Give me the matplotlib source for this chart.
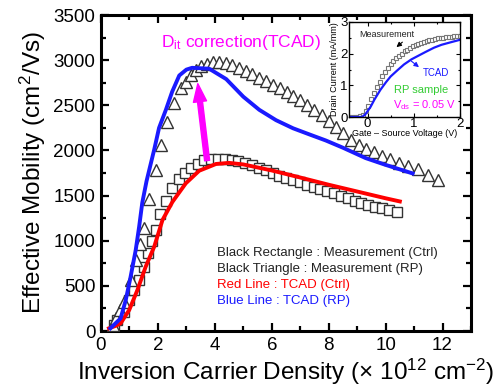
import matplotlib
matplotlib.use("Agg")
import matplotlib.pyplot as plt
from matplotlib.ticker import MultipleLocator
from matplotlib.patches import FancyArrowPatch

plt.rcParams['font.family'] = ['Liberation Sans', 'DejaVu Sans']
plt.rcParams['mathtext.fontset'] = 'custom'
plt.rcParams['mathtext.rm'] = 'Liberation Sans'
plt.rcParams['mathtext.it'] = 'Liberation Sans:italic'

# ---- main data ----
sq_x = [0.46, 0.57, 0.81, 0.98, 1.16, 1.33, 1.51, 1.66, 1.78, 1.92,
        2.08, 2.27, 2.51, 2.73, 2.95, 3.17, 3.40, 3.63, 3.87, 4.11,
        4.35, 4.59, 4.83, 5.07, 5.31, 5.55, 5.79, 6.03, 6.27, 6.51,
        6.75, 6.99, 7.23, 7.47, 7.71, 7.95, 8.19, 8.43, 8.67, 8.91,
        9.15, 9.39, 9.63, 9.87, 10.12, 10.40]
sq_y = [66, 122, 214, 343, 454, 565, 712, 860, 1000, 1120,
        1300, 1440, 1580, 1680, 1750, 1805, 1855, 1890, 1900, 1902,
        1900, 1890, 1878, 1858, 1835, 1810, 1780, 1750, 1722, 1695,
        1670, 1645, 1622, 1600, 1575, 1552, 1525, 1495, 1468, 1442,
        1418, 1395, 1375, 1358, 1342, 1322]

tri_x = [0.42, 0.52, 0.66, 0.81, 1.04, 1.22, 1.38, 1.52, 1.70, 1.92,
         2.10, 2.33, 2.57, 2.80, 2.98, 3.15, 3.33, 3.50, 3.72, 3.94,
         4.16, 4.38, 4.60, 4.84, 5.08, 5.32, 5.56, 5.80, 6.04, 6.28,
         6.52, 6.76, 7.00, 7.25, 7.50, 7.75, 8.00, 8.26, 8.52, 8.78,
         9.05, 9.32, 9.60, 9.88, 10.17, 10.47, 10.78, 11.14, 11.49, 11.84]
tri_y = [66, 140, 230, 325, 565, 786, 960, 1140, 1460, 1783,
         2060, 2318, 2521, 2688, 2761, 2835, 2890, 2935, 2960, 2975,
         2982, 2972, 2945, 2915, 2880, 2845, 2805, 2765, 2725, 2690,
         2650, 2605, 2560, 2505, 2450, 2390, 2330, 2260, 2190, 2110,
         2060, 2015, 1980, 1940, 1900, 1862, 1828, 1790, 1725, 1670]

red_x = [0.28, 0.50, 0.69, 0.99, 1.28, 1.57, 1.87, 2.16, 2.51, 2.98,
         3.45, 4.04, 4.50, 5.00, 6.00, 7.00, 8.00, 9.00, 10.00, 10.50]
red_y = [30, 55, 85, 232, 454, 712, 934, 1229, 1430, 1636,
         1775, 1850, 1862, 1845, 1778, 1700, 1620, 1545, 1470, 1435]

blue_x = [0.33, 0.69, 0.87, 1.04, 1.22, 1.34, 1.45, 1.60, 1.87, 2.04,
          2.28, 2.50, 2.75, 3.00, 3.20, 3.80, 4.40, 5.00, 5.56, 6.15,
          6.75, 7.30, 7.90, 8.50, 9.30, 10.00, 10.50, 10.95]
blue_y = [30, 140, 343, 600, 897, 1155, 1420, 1660, 2010, 2250,
          2450, 2650, 2830, 2895, 2915, 2905, 2790, 2595, 2450, 2335,
          2245, 2180, 2110, 2030, 1915, 1840, 1790, 1745]

legend_lines = ["Black Rectangle : Measurement (Ctrl)",
                "Black Triangle : Measurement (RP)",
                "Red Line : TCAD (Ctrl)",
                "Blue Line : TCAD (RP)"]
legend_colors = ['#222222', '#222222', '#ff0000', '#1a1aff']

# ---- inset data ----
in_meas_x = [-0.40, -0.34, -0.28, -0.22, -0.16, -0.10, -0.04, 0.02, 0.08, 0.14,
             0.20, 0.26, 0.32, 0.38, 0.44, 0.50, 0.56, 0.62, 0.68, 0.74,
             0.80, 0.86, 0.92, 0.98, 1.04, 1.10, 1.16, 1.22, 1.28, 1.34,
             1.40, 1.46, 1.52, 1.58, 1.64, 1.70, 1.76, 1.82, 1.88, 1.94, 2.00]
in_meas_y = [0.0, 0.0, 0.0, 0.01, 0.02, 0.06, 0.18, 0.36, 0.56, 0.76,
             0.95, 1.12, 1.28, 1.42, 1.55, 1.66, 1.76, 1.85, 1.93, 2.00,
             2.07, 2.13, 2.18, 2.23, 2.27, 2.31, 2.34, 2.37, 2.40, 2.42,
             2.44, 2.46, 2.48, 2.49, 2.51, 2.52, 2.53, 2.54, 2.55, 2.56, 2.57]
in_tcad_x = [-0.40, -0.20, -0.12, -0.05, 0.00, 0.07, 0.15, 0.28, 0.40, 0.50,
             0.65, 0.79, 0.95, 1.08, 1.25, 1.44, 1.60, 1.80, 1.98]
in_tcad_y = [0.0, 0.0, 0.0, 0.08, 0.18, 0.33, 0.55, 0.86, 1.10, 1.28,
             1.48, 1.66, 1.82, 1.92, 2.05, 2.19, 2.28, 2.36, 2.43]

W, H = 497, 391
fig = plt.figure(figsize=(W / 100, H / 100), dpi=100)
ax = fig.add_axes([101 / W, 1 - 331 / H, 370 / W, 316 / H])

ax.plot(sq_x, sq_y, linestyle='none', marker='s', ms=6.5, mfc='white',
        mec='#333333', mew=1.0, zorder=3)
ax.plot(tri_x, tri_y, linestyle='none', marker='^', ms=9, mfc='white',
        mec='#333333', mew=1.0, zorder=3)
ax.plot(red_x, red_y, color='#ff0000', lw=2.8, zorder=4)
ax.plot(blue_x, blue_y, color='#1a1aff', lw=2.8, zorder=4)

ax.set_xlim(0, 13)
ax.set_ylim(0, 3500)
ax.xaxis.set_major_locator(MultipleLocator(2))
ax.xaxis.set_minor_locator(MultipleLocator(1))
ax.yaxis.set_major_locator(MultipleLocator(500))
ax.yaxis.set_minor_locator(MultipleLocator(250))
ax.tick_params(which='both', direction='in', top=True, right=True,
               labelsize=13.5, width=1.6, pad=4)
ax.tick_params(which='major', length=6)
ax.tick_params(which='minor', length=3.5)
for s in ax.spines.values():
    s.set_linewidth(2.2)

ax.set_xlabel('Inversion Carrier Density (× 10$^{12}$ cm$^{-2}$)', fontsize=17.5, labelpad=2)
ax.set_ylabel('Effective Mobility (cm$^{2}$/Vs)', fontsize=17.5, labelpad=4)

# arrow
arr = FancyArrowPatch((3.74, 1857), (3.39, 2770),
                      arrowstyle='simple,head_length=1.3,head_width=0.95,tail_width=0.36',
                      mutation_scale=10, color='#ff00ff', zorder=5)
ax.add_patch(arr)
ax.text(4.92, 3190, r'D$_{\mathrm{it}}$ correction(TCAD)', color='#ff00ff',
        fontsize=12.5, ha='center', va='center')

for i, (t, c) in enumerate(zip(legend_lines, legend_colors)):
    ax.text(4.07, 864 - i * 177, t, color=c, fontsize=9.5, ha='left', va='center')

# ---- inset ----
ia = fig.add_axes([349 / W, 1 - 117 / H, 111 / W, 95 / H])
ia.plot(in_meas_x, in_meas_y, linestyle='none', marker='s', ms=3.2, mfc='white',
        mec='#777777', mew=0.8)
ia.plot(in_tcad_x, in_tcad_y, color='#1a1aff', lw=1.6)
ia.set_xlim(-0.4, 2.0)
ia.set_ylim(0, 3)
ia.xaxis.set_major_locator(MultipleLocator(1))
ia.xaxis.set_minor_locator(MultipleLocator(0.5))
ia.yaxis.set_major_locator(MultipleLocator(1))
ia.yaxis.set_minor_locator(MultipleLocator(0.5))
ia.tick_params(which='both', direction='in', top=True, right=True,
               labelsize=9.5, width=0.8, pad=1)
ia.tick_params(which='major', length=3)
ia.tick_params(which='minor', length=1.5)
for s in ia.spines.values():
    s.set_linewidth(1.0)
ia.set_xlabel('Gate – Source Voltage (V)', fontsize=6.5, labelpad=-1)
ia.set_ylabel('Drain Current (mA/mm)', fontsize=6.5, labelpad=1)

ia.annotate('', xy=(0.58, 2.15), xytext=(0.80, 2.42),
            arrowprops=dict(arrowstyle='-|>', color='black', lw=0.8,
                            mutation_scale=7))
ia.annotate('', xy=(1.16, 1.52), xytext=(0.90, 1.82),
            arrowprops=dict(arrowstyle='-|>', color='#1a1aff', lw=0.8,
                            mutation_scale=7))
ia.text(0.41, 2.62, 'Measurement', fontsize=6.5, ha='center', va='center',
        color='#222222')
ia.text(1.48, 1.40, 'TCAD', fontsize=7, ha='center', va='center', color='#1a1aff')
ia.text(1.17, 0.86, 'RP sample', fontsize=8, ha='center', va='center', color='#33cc33')
ia.text(1.22, 0.38, r'V$_{\mathrm{ds}}$ = 0.05 V', fontsize=8, ha='center',
        va='center', color='#ff00ff')

fig.savefig('out.png', dpi=100)
